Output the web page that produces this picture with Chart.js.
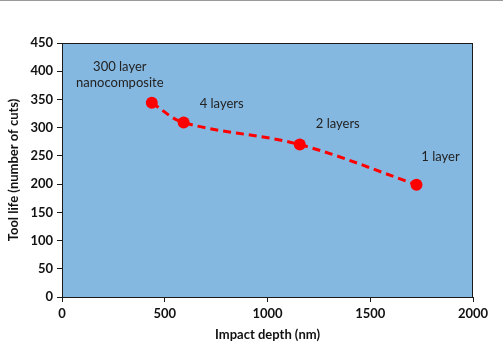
<!DOCTYPE html>
<html>
<head>
<meta charset="utf-8">
<script src="https://cdn.jsdelivr.net/npm/chart.js@4"></script>
<style>
  html, body { margin: 0; padding: 0; background: #fff; }
  body { width: 503px; height: 348px; overflow: hidden; }
  #wrap { position: relative; width: 503px; height: 348px; border-top: 1px solid #9a9a9a; box-sizing: border-box; }
</style>
</head>
<body>
<div id="wrap"><canvas id="chart" width="503" height="347"></canvas></div>
<script>
// data
const depths = [437, 592, 1157, 1725];
const toolLife = [344, 309, 270, 199];
const pointLabels = [["300 layer", "nanocomposite"], ["4 layers"], ["2 layers"], ["1 layer"]];
const xTicks = [0, 500, 1000, 1500, 2000];
const yTicks = [0, 50, 100, 150, 200, 250, 300, 350, 400, 450];

// label offsets from each point, in px (last line of the label)
const labelOffsets = [[-32, -20], [38, -19], [38, -21], [24, -28]];

const plotBg = {
  id: 'plotBg',
  beforeDraw(chart) {
    const { ctx, chartArea: a } = chart;
    ctx.save();
    ctx.fillStyle = '#85b8e0';
    ctx.fillRect(a.left, a.top, a.right - a.left, a.bottom - a.top);
    ctx.restore();
  },
  afterDatasetsDraw(chart) {
    const { ctx, chartArea: a } = chart;
    ctx.save();
    ctx.strokeStyle = '#1a1a1a';
    ctx.lineWidth = 1;
    ctx.strokeRect(a.left + 0.5, a.top + 0.5, a.right - a.left - 1, a.bottom - a.top);
    // point labels
    const meta = chart.getDatasetMeta(0);
    ctx.fillStyle = '#222';
    ctx.font = '13px Lato, "Open Sans", sans-serif';
    ctx.textAlign = 'center';
    ctx.textBaseline = 'middle';
    meta.data.forEach((pt, i) => {
      const lines = pointLabels[i];
      const [dx, dy] = labelOffsets[i];
      lines.forEach((t, j) => {
        const y = pt.y + dy - (lines.length - 1 - j) * 16;
        ctx.fillText(t, pt.x + dx, y);
      });
    });
    ctx.restore();
  }
};

const tickFont = { family: 'Lato', weight: 'bold', size: 13 };
const titleFont = { family: 'Lato', weight: 'bold', size: 13 };

new Chart(document.getElementById('chart'), {
  type: 'line',
  data: {
    datasets: [{
      data: depths.map((d, i) => ({ x: d, y: toolLife[i] })),
      borderColor: '#ff0000',
      backgroundColor: '#ff0000',
      borderWidth: 3,
      borderDash: [8, 5],
      pointRadius: 6,
      pointBorderWidth: 0,
      tension: 0.35,
      fill: false
    }]
  },
  plugins: [plotBg],
  options: {
    responsive: false,
    animation: false,
    layout: { padding: { top: 42, right: 30, left: 6, bottom: 5 } },
    plugins: { legend: { display: false }, tooltip: { enabled: false } },
    scales: {
      x: {
        type: 'linear',
        min: 0, max: 2000,
        afterBuildTicks(s) { s.ticks = xTicks.map(v => ({ value: v })); },
        afterFit(s) { s.height = 46; },
        grid: { display: true, drawOnChartArea: false, drawTicks: true, tickLength: 5, color: '#1a1a1a' },
        border: { display: false },
        ticks: { color: '#111', font: tickFont, padding: 4, maxRotation: 0, callback: v => String(v) },
        title: { display: true, text: 'Impact depth (nm)', color: '#111', font: titleFont, padding: { top: 2, bottom: 0 } }
      },
      y: {
        min: 0, max: 450,
        afterBuildTicks(s) { s.ticks = yTicks.map(v => ({ value: v })); },
        afterFit(s) { s.width = 56; },
        grid: { display: true, drawOnChartArea: false, drawTicks: true, tickLength: 5, color: '#1a1a1a' },
        border: { display: false },
        ticks: { color: '#111', font: tickFont, padding: 4, callback: v => String(v) },
        title: { display: true, text: 'Tool life (number of cuts)', color: '#111', font: titleFont, padding: { top: 0, bottom: 2 } }
      }
    }
  }
});
</script>
</body>
</html>
